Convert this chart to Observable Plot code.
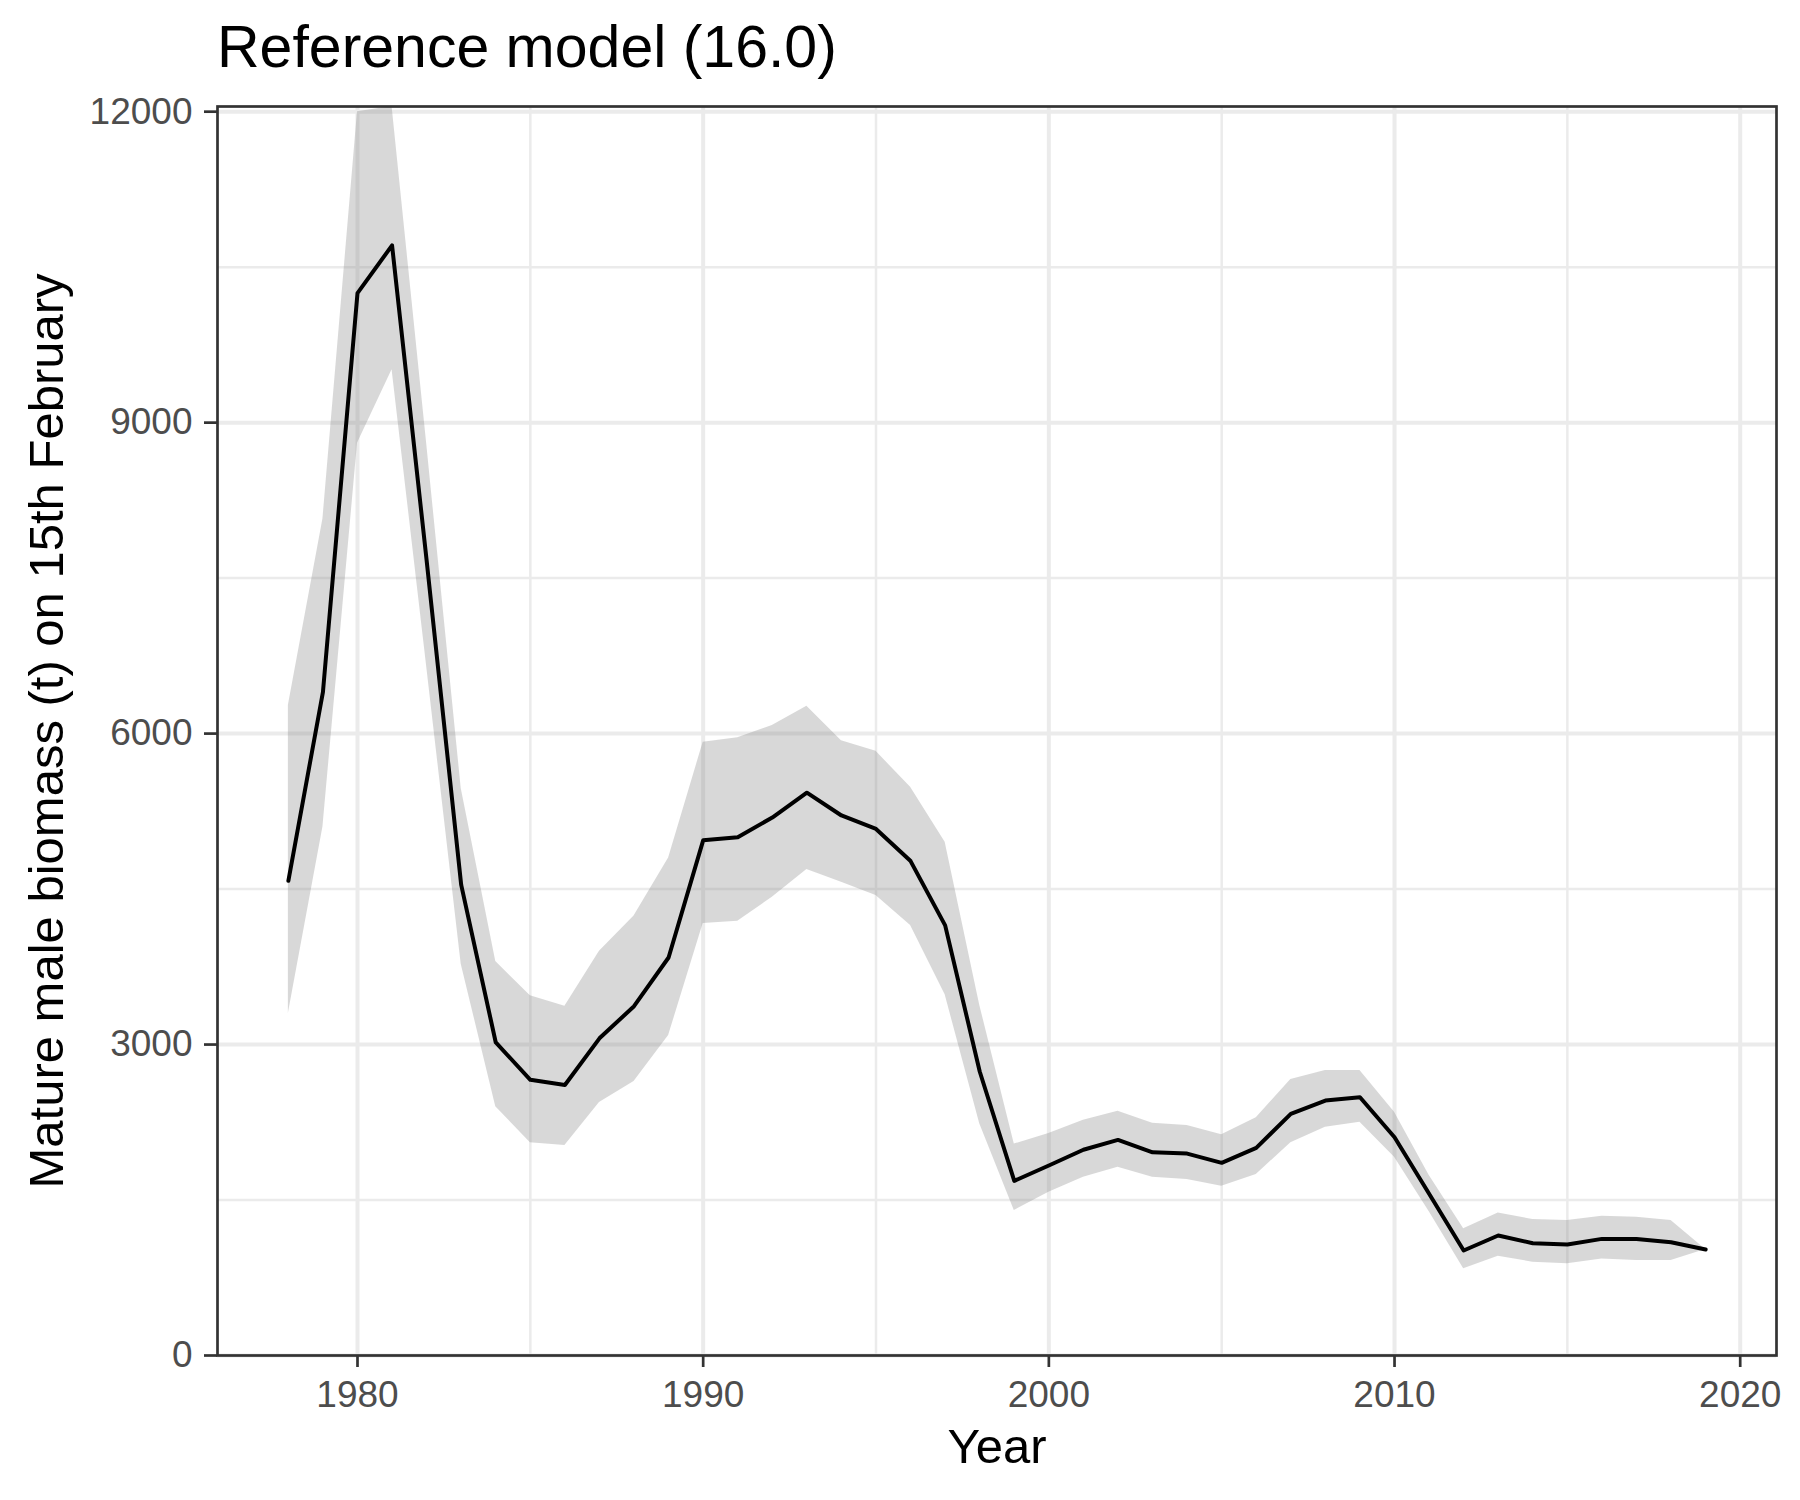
<!DOCTYPE html>
<html>
<head>
<meta charset="utf-8">
<script src="https://cdn.jsdelivr.net/npm/d3@7"></script>
<script src="https://cdn.jsdelivr.net/npm/@observablehq/plot@0.6"></script>
<style>
  body { margin: 0; background: white; font-family: Arial, "Liberation Sans", sans-serif; }
  #title { box-sizing: border-box; height: 90px; padding: 18px 0 0 217px; font-size: 59px; line-height: 59px; color: black; }
</style>
</head>
<body>
<div id="title">Reference model (16.0)</div>
<div id="chart"></div>
<script>
// years of the assessment
const years = d3.range(1978, 2020)
// mature male biomass, estimate
const mmb = [4580, 6400, 10250, 10710, 7670, 4540, 3020, 2660, 2610, 3060,
  3370, 3840, 4970, 5000, 5190, 5430, 5210, 5080, 4770, 4150,
  2740, 1685, 1833, 1985, 2080, 1960, 1948, 1859, 2003, 2331,
  2460, 2492, 2106, 1560, 1013, 1158, 1083, 1071, 1125, 1125,
  1093, 1022]
// lower bound of the interval
const lower = [3300, 5100, 8800, 9510, 6650, 3775, 2400, 2052, 2027, 2440,
  2643, 3087, 4167, 4189, 4421, 4688, 4566, 4437, 4148, 3480,
  2235, 1399, 1575, 1720, 1817, 1720, 1698, 1633, 1746, 2052,
  2202, 2251, 1913, 1390, 836, 958, 900, 884, 932, 916,
  916, 1022]
// upper bound of the interval
const upper = [6270, 8070, 12000, 12050, 8800, 5471, 3800, 3470, 3370, 3900,
  4240, 4800, 5916, 5961, 6077, 6263, 5932, 5829, 5482, 4952,
  3380, 2040, 2141, 2270, 2356, 2241, 2219, 2129, 2293, 2662,
  2749, 2749, 2347, 1740, 1222, 1376, 1312, 1302, 1344, 1334,
  1302, 1022]

const xTicks = [1980, 1990, 2000, 2010, 2020]
const xMinor = [1985, 1995, 2005, 2015]
const yTicks = [0, 3000, 6000, 9000, 12000]
const yMinor = [1500, 4500, 7500, 10500]

const data = years.map((year, i) => ({year, mmb: mmb[i], lo: lower[i], hi: upper[i]}))

let chart = Plot.plot({
  width: 1800,
  height: 1410,
  marginLeft: 217,
  marginRight: 24,
  marginTop: 16,
  marginBottom: 145,
  x: {domain: [1975.95, 2021.05]},
  y: {domain: [0, 12050]},
  style: {fontFamily: "Arial, 'Liberation Sans', sans-serif", background: "white", color: "black"},
  marks: [
    //grid
    Plot.ruleY(yMinor, {stroke: "#EBEBEB", strokeWidth: 2.5}),
    Plot.ruleX(xMinor, {stroke: "#EBEBEB", strokeWidth: 2.5}),
    Plot.ruleY(yTicks, {stroke: "#EBEBEB", strokeWidth: 4}),
    Plot.ruleX(xTicks, {stroke: "#EBEBEB", strokeWidth: 4}),
    //interval and estimate
    Plot.areaY(data, {x: "year", y1: "lo", y2: "hi", fill: "#7f7f7f", fillOpacity: 0.3}),
    Plot.line(data, {x: "year", y: "mmb", stroke: "black", strokeWidth: 4}),
    Plot.frame({stroke: "#333333", strokeWidth: 2.7}),
    //axes
    Plot.axisX(xTicks, {tickSize: 12, tickPadding: 13, fontSize: 37, fill: "#4D4D4D", stroke: "#333333", strokeWidth: 2.7, tickFormat: d => String(d), label: null}),
    Plot.axisY(yTicks, {tickSize: 13, tickPadding: 12, fontSize: 37, fill: "#4D4D4D", stroke: "#333333", strokeWidth: 2.7, tickFormat: d => String(d), label: null}),
    Plot.text(["Year"], {frameAnchor: "bottom", lineAnchor: "bottom", dy: 107, fontSize: 49, fill: "black"}),
    Plot.text(["Mature male biomass (t) on 15th February"], {frameAnchor: "left", textAnchor: "middle", lineAnchor: "bottom", rotate: -90, dx: -155, fontSize: 49, fill: "black"})
  ]
})

d3.select('#chart').append(() => chart)
</script>
</body>
</html>
